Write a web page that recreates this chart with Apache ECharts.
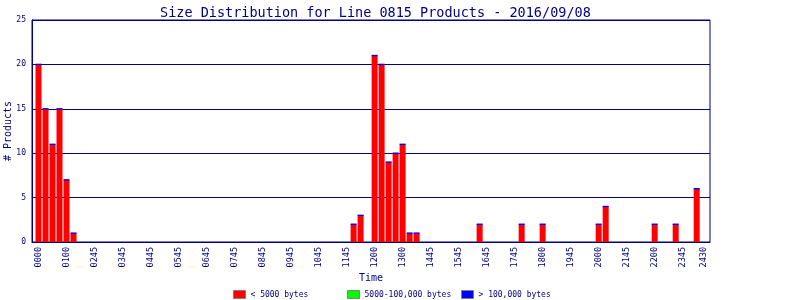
<!DOCTYPE html>
<html><head><meta charset="utf-8">
<script src="https://cdn.jsdelivr.net/npm/echarts@6/dist/echarts.min.js"></script>
<style>html,body{margin:0;padding:0;background:#fff}#c{width:800px;height:300px}</style>
</head><body><div id="c"></div>
<script>
// 15-minute slots, index 0 = 00:00 ... 95 = 23:45
const under5000 = [
  20,15,11,15,7,1,0,0,0,0,0,0,
  0,0,0,0,0,0,0,0,0,0,0,0,
  0,0,0,0,0,0,0,0,0,0,0,0,
  0,0,0,0,0,0,0,0,0,2,3,0,
  21,20,9,10,11,1,1,0,0,0,0,0,
  0,0,0,2,0,0,0,0,0,2,0,0,
  2,0,0,0,0,0,0,0,2,4,0,0,
  0,0,0,0,2,0,0,2,0,0,6,0
];
const mid5000to100k = new Array(96).fill(0);
const over100k = new Array(96).fill(0);
const tickLabels = ['0000','0100','0245','0345','0445','0545','0645','0745','0845','0945','1045','1145',
  '1200','1300','1445','1545','1645','1745','1800','1945','2000','2145','2200','2345','2430'];
const tickSlots = [0,4,8,12,16,20,24,28,32,36,40,44,48,52,56,60,64,68,72,76,80,84,88,92,95];
const seriesNames = ['< 5000 bytes','5000-100,000 bytes','> 100,000 bytes'];
const seriesColors = ['#ff0000','#00ff00','#0000ff'];

const NAVY = '#000080';
const FONT = 'DejaVu Sans Mono';
const toPairs = arr => arr.map((v,i)=>[i,v]);
// the top-of-stack marker for the "> 100,000" series (drawn as thin cap where any product exists)
const capData = over100k.map((v,i)=>{const t=under5000[i]+mid5000to100k[i]+v; return t>0?[i,t]:null;}).filter(Boolean);

const legendBase = (name, left) => ({data:[name], left:left, top:290, padding:0, itemWidth:12, itemHeight:8, icon:'rect',
  itemStyle:{borderColor:'#808080', borderWidth:1, opacity:1},
  textStyle:{color:NAVY, fontFamily:FONT, fontSize:8}});

const chart = echarts.init(document.getElementById('c'), null, {renderer:'canvas'});
chart.setOption({
  animation:false,
  backgroundColor:'#fff',
  title:{text:'Size Distribution for Line 0815 Products - 2016/09/08', left:155, top:1,
    textStyle:{color:NAVY, fontFamily:FONT, fontSize:13.5, fontWeight:'normal'}},
  grid:{left:32, right:90, top:20, bottom:58, show:true, borderColor:NAVY, borderWidth:1,
    containLabel:false, outerBoundsMode:'none'},
  legend:[legendBase(seriesNames[0],233), legendBase(seriesNames[1],347), legendBase(seriesNames[2],461)],
  xAxis:{type:'value', min:-0.93, max:95.9, name:'Time', nameLocation:'middle', nameGap:31, nameMoveOverlap:false,
    nameTextStyle:{color:NAVY, fontFamily:FONT, fontSize:10},
    axisLine:{show:true, onZero:false, lineStyle:{color:NAVY}}, axisTick:{show:false}, splitLine:{show:false},
    axisLabel:{customValues:tickSlots, rotate:90, margin:5, color:NAVY, fontFamily:FONT, fontSize:8.5,
      formatter:v=>{const k=tickSlots.indexOf(v); return k>=0?tickLabels[k]:'';}}},
  yAxis:{type:'value', min:0, max:25, interval:5, name:'# Products', nameLocation:'middle', nameGap:19, nameMoveOverlap:false,
    nameTextStyle:{color:NAVY, fontFamily:FONT, fontSize:10},
    axisLine:{show:true, onZero:false, lineStyle:{color:NAVY}}, axisTick:{show:false},
    splitLine:{show:true, lineStyle:{color:NAVY, width:1}},
    axisLabel:{color:NAVY, fontFamily:FONT, fontSize:8, margin:6}},
  series:[
    {name:seriesNames[0], type:'bar', stack:'s', barWidth:6, data:toPairs(under5000), itemStyle:{color:seriesColors[0]}},
    {name:seriesNames[1], type:'bar', stack:'s', barWidth:6, data:toPairs(mid5000to100k), itemStyle:{color:seriesColors[1]}},
    {name:seriesNames[2], type:'scatter', symbol:'rect', symbolSize:[6,1.4], data:capData,
      itemStyle:{color:seriesColors[2], opacity:1}, z:3}
  ]
});
</script></body></html>
